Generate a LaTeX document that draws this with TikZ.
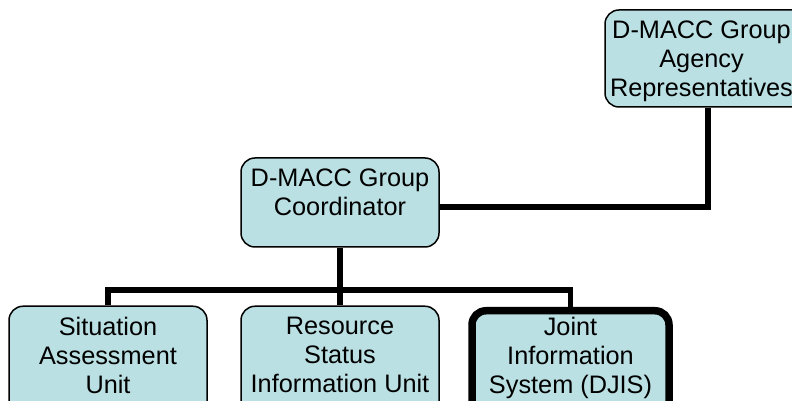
\documentclass[tikz,border=0pt]{standalone}
\usepackage{fontspec}
\setmainfont{Liberation Sans}
\definecolor{boxfill}{RGB}{186,224,227}
\begin{document}
\begin{tikzpicture}[x=1pt,y=1pt,
  unitbox/.style={draw=black, line width=1.5pt, fill=boxfill, rounded corners=14pt,
    minimum width=198pt, inner sep=0pt},
  keybox/.style={unitbox, line width=7.5pt},
  boxtext/.style={anchor=north, inner sep=0pt, align=center, yshift=-11.8pt,
    font=\fontsize{25.3}{28.6}\selectfont},
  link/.style={line width=5.5pt, line cap=butt}]
\useasboundingbox (0,0) rectangle (792,401);
\clip (0,0) rectangle (792,401);

% boxes
\node[unitbox, minimum width=215pt, minimum height=97pt] (rep) at (712.5,342.5) {};
\node[unitbox, minimum height=89pt] (coord) at (340,198.5) {};
\node[unitbox, minimum height=115pt, anchor=north] (sit) at (108,95.5) {};
\node[unitbox, minimum height=115pt, anchor=north] (res) at (340,95.5) {};
\node[keybox, minimum width=197pt, minimum height=115pt, anchor=north] (jis) at (570.5,94) {};

% connectors
\coordinate (repdrop) at (708,194);
\coordinate (busmid) at (340,111);
\draw[link] (rep.south -| repdrop) -- (repdrop) -- (coord.east |- repdrop);
\draw[link] (coord.south) -- (busmid);
\draw[link] (sit.north) |- (busmid) -| (jis.north);
\draw[link] (busmid) -- (res.north);

% labels
\node[boxtext, xshift=-11pt] (reptext) at (rep.north) {D-MACC Group\\Agency\\Representatives};
\node[boxtext] (coordtext) at (coord.north) {D-MACC Group\\Coordinator};
\node[boxtext] (sittext) at (sit.north) {Situation\\Assessment\\Unit};
\node[boxtext] (restext) at (res.north) {Resource\\Status\\Information Unit};
\node[boxtext, yshift=1.5pt] (jistext) at (jis.north) {Joint\\Information\\System (DJIS)};
\end{tikzpicture}
\end{document}
